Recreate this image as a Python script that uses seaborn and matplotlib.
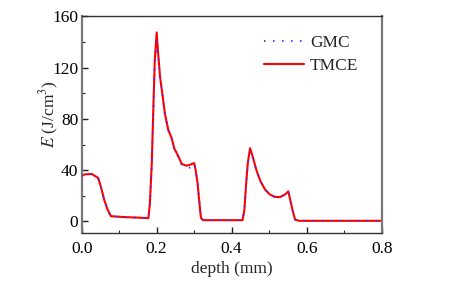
import numpy as np
import pandas as pd
import matplotlib
matplotlib.use('Agg')
import matplotlib.pyplot as plt
from matplotlib.ticker import MultipleLocator
import seaborn as sns

depth = [0.000, 0.010, 0.027, 0.044, 0.051, 0.060, 0.069, 0.078, 0.115, 0.150, 0.178,
         0.182, 0.187, 0.191, 0.195, 0.200, 0.204, 0.209, 0.215, 0.222, 0.231, 0.240,
         0.247, 0.258, 0.267, 0.280, 0.289, 0.300, 0.304, 0.309, 0.314, 0.318, 0.324,
         0.360, 0.400, 0.429, 0.434, 0.438, 0.443, 0.449, 0.456, 0.467, 0.477, 0.489,
         0.502, 0.515, 0.529, 0.542, 0.551, 0.557, 0.563, 0.569, 0.580, 0.650, 0.720, 0.800]
tmce = [36.0, 36.8, 37.0, 34.0, 27.4, 17.0, 9.3, 4.1, 3.4, 3.0, 2.6,
        14.5, 45.6, 87.0, 126.0, 147.5, 131.0, 113.0, 100.0, 84.0, 71.5, 65.0,
        57.0, 50.7, 44.8, 43.5, 44.3, 45.5, 40.0, 30.0, 14.5, 2.9, 1.0,
        1.0, 1.0, 1.0, 9.3, 27.4, 45.6, 57.2, 50.7, 39.0, 31.3, 24.9,
        21.0, 19.2, 19.0, 21.0, 23.5, 15.8, 8.0, 1.5, 0.5, 0.5, 0.5, 0.5]
gmc = [35.5, 36.5, 36.8, 33.8, 27.0, 17.0, 9.5, 4.0, 3.3, 3.0, 2.5,
       14.0, 45.0, 86.0, 124.0, 140.0, 129.0, 112.0, 99.0, 83.0, 71.0, 64.0,
       56.5, 50.0, 44.0, 42.5, 42.0, 45.0, 39.5, 30.0, 14.5, 2.8, 1.0,
       1.0, 1.0, 1.0, 9.0, 27.0, 45.0, 55.0, 50.0, 39.0, 31.0, 24.8,
       21.0, 19.0, 19.0, 21.0, 23.0, 15.5, 8.0, 1.5, 0.5, 0.5, 0.5, 0.5]

sns.set_style('ticks')
plt.rcParams['font.family'] = ['Liberation Serif', 'DejaVu Serif']
plt.rcParams['mathtext.fontset'] = 'stix'

fig = plt.figure(figsize=(4.64, 2.88), dpi=100)
ax = fig.add_axes([0.176, 0.191, 0.6466, 0.752])

sns.lineplot(x=depth, y=tmce, ax=ax, color='#ff0000', linewidth=1.5, zorder=2, label='TMCE')
sns.lineplot(x=depth, y=gmc, ax=ax, color='#3030ff', linewidth=1.3, zorder=3, label='GMC')
ax.lines[1].set_dashes((0.8, 4.2))

ax.set_xlim(0, 0.8)
ax.set_ylim(-9, 160)
ax.xaxis.set_major_locator(MultipleLocator(0.2))
ax.xaxis.set_minor_locator(MultipleLocator(0.1))
ax.yaxis.set_major_locator(MultipleLocator(40))
ax.yaxis.set_minor_locator(MultipleLocator(20))
ax.xaxis.set_major_formatter(matplotlib.ticker.FormatStrFormatter('%.1f'))
ax.tick_params(which='major', direction='in', length=4, width=1, labelsize=12.5, colors='#222222',
               top=False, right=False)
ax.tick_params(which='minor', direction='in', length=2.5, width=0.8, top=False, right=False)
ax.tick_params(axis='x', pad=6)
ax.tick_params(axis='y', pad=2.5)
ax.tick_params(axis='both', labelcolor='black')

for side in ['left', 'right']:
    ax.spines[side].set_color('#777777')
    ax.spines[side].set_linewidth(1.6)
for side in ['top', 'bottom']:
    ax.spines[side].set_color('#333333')
    ax.spines[side].set_linewidth(1.0)

ax.set_xlabel('depth (mm)', fontsize=12.5, labelpad=3)
ax.set_ylabel('$E$ (J/cm$^3$)', fontsize=12.5)
ax.yaxis.set_label_coords(-0.07, 0.55)

handles, labels = ax.get_legend_handles_labels()
order = [labels.index('GMC'), labels.index('TMCE')]
ax.legend([handles[i] for i in order], [labels[i] for i in order], loc='upper right',
          bbox_to_anchor=(0.975, 0.985), frameon=False, fontsize=12.5, handlelength=2.3,
          handletextpad=0.35, labelspacing=0.35)

fig.savefig('out.png', dpi=100)
